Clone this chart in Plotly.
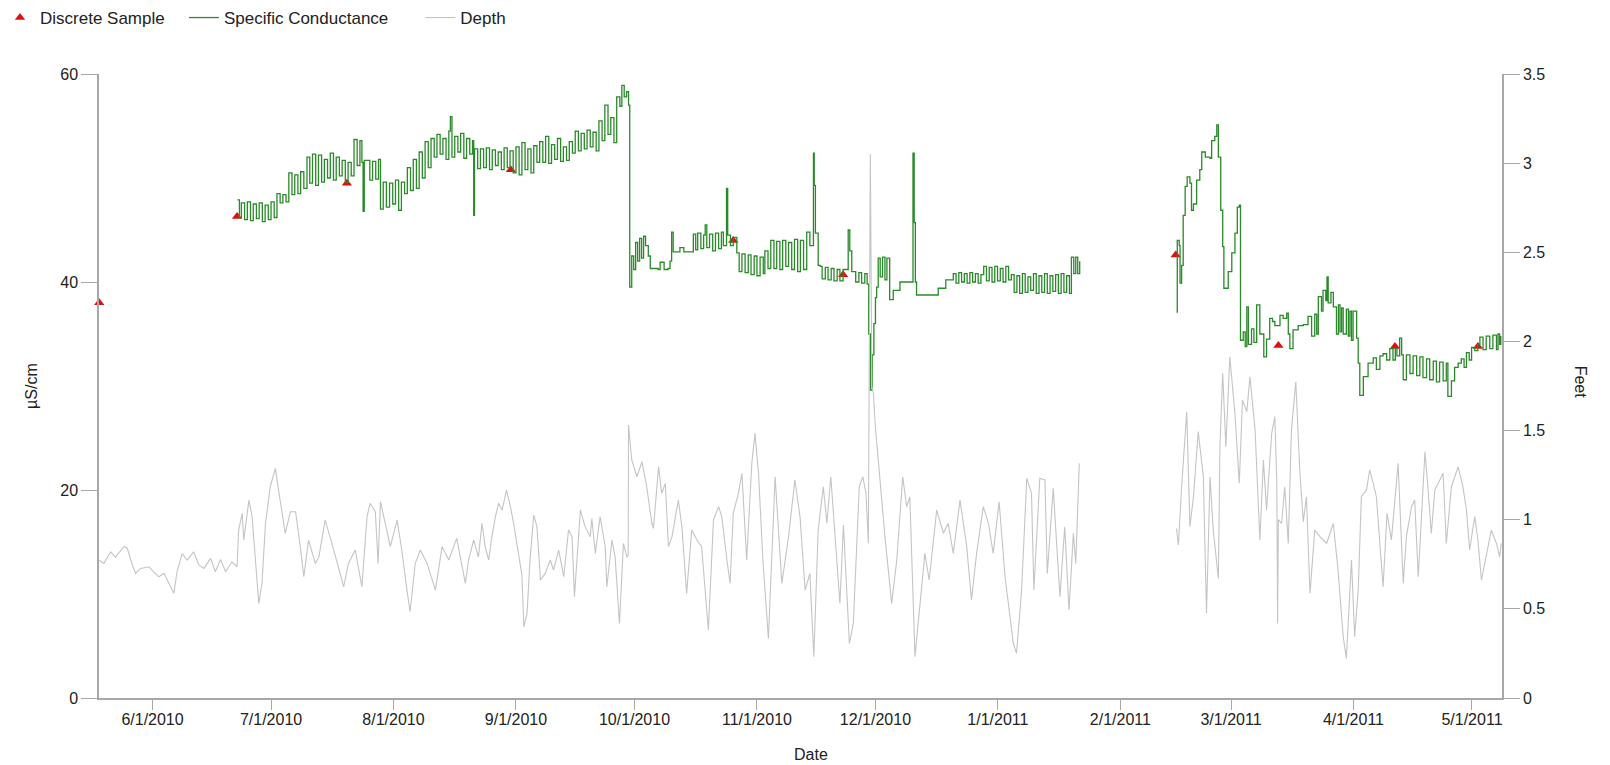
import pandas as pd
import plotly.graph_objects as go

BASE = pd.Timestamp("2010-06-01")

# ---------------- Data (day offsets from 2010-06-01) ----------------
sample_day = [-13.5, 21.4, 49.2, 90.7, 147.0, 174.8, 259.0, 285.0, 314.5, 335.5]
sample_val = [38.0, 46.3, 49.5, 50.8, 44.0, 40.7, 42.6, 33.9, 33.8, 33.8]

cond_day = [
    21.5, 22.0, 22.5, 23.3, 24.0, 24.8, 25.5, 26.3, 27.0, 27.8, 28.5, 29.3, 30.0, 30.8,
    31.5, 32.3, 33.0, 33.8, 34.5, 35.3, 36.0, 36.8, 37.5, 38.3, 39.1, 39.8, 40.5, 41.3,
    42.0, 42.8, 43.5, 44.3, 45.0, 45.8, 46.5, 47.3, 48.0, 48.8, 49.5, 50.3, 51.0, 51.8,
    52.5, 53.0, 53.3, 53.6, 54.3, 55.0, 55.7, 56.5, 57.2, 57.7, 58.4, 59.2, 60.0, 60.8,
    61.5, 62.3, 63.0, 63.8, 64.5, 65.3, 66.0, 66.8, 67.5, 68.3, 69.0, 69.8, 70.5, 71.3,
    72.0, 72.8, 73.5, 74.3, 75.0, 75.4, 75.8, 76.5, 77.3, 78.0, 78.8, 79.5, 80.3, 81.0,
    81.3, 81.5, 82.3, 83.0, 83.8, 84.5, 85.3, 86.0, 86.8, 87.5, 88.3, 89.0, 89.8, 90.5,
    91.3, 92.0, 92.8, 93.5, 94.3, 95.0, 95.8, 96.5, 97.3, 98.0, 98.8, 99.5, 100.3, 101.0,
    101.8, 102.5, 103.3, 104.0, 104.8, 105.5, 106.3, 107.0, 107.8, 108.5, 109.3, 110.0,
    110.8, 111.5, 112.3, 113.0, 113.8, 114.5, 115.3, 116.0, 116.8, 117.5, 118.3, 118.8,
    119.4, 120.0, 120.5, 120.8, 121.3, 121.8, 122.3, 122.8, 123.3, 123.8, 124.3, 124.8,
    125.5, 126.0, 128.0, 128.5, 129.5, 130.5, 131.0, 131.4, 131.8, 133.5, 134.5, 136.9,
    137.5, 138.0, 138.8, 139.5, 139.9, 140.3, 141.0, 141.8, 142.5, 143.3, 144.0, 144.5,
    145.3, 145.6, 146.3, 147.0, 147.9, 148.5, 149.2, 150.0, 150.8, 151.5, 152.3, 153.0,
    153.8, 154.6, 155.0, 155.8, 156.5, 157.3, 158.0, 158.8, 159.5, 160.3, 161.0, 161.8,
    162.5, 163.3, 164.0, 164.8, 165.6, 166.4, 167.3, 167.5, 167.8, 168.5, 169.0, 169.5,
    170.3, 171.0, 171.8, 172.5, 173.3, 174.0, 174.8, 175.8, 176.1, 176.5, 177.0, 178.0,
    178.8, 179.5, 180.3, 180.9, 181.3, 181.7, 182.2, 182.6, 183.0, 183.3, 183.7, 184.2,
    184.8, 185.4, 185.9, 186.6, 187.5, 189.2, 192.5, 192.8, 193.1, 193.4, 198.9, 200.8,
    202.7, 203.4, 204.1, 204.8, 205.5, 206.2, 206.9, 207.6, 208.3, 209.0, 209.7, 210.4,
    211.1, 211.8, 212.5, 213.2, 213.9, 214.6, 215.3, 216.0, 216.7, 217.4, 218.1, 218.8,
    219.5, 220.2, 220.9, 221.6, 222.3, 223.0, 223.7, 224.4, 225.1, 225.8, 226.5, 227.2,
    227.9, 228.6, 229.3, 230.0, 230.7, 231.4, 232.1, 232.6, 233.2, 233.7, 234.2, 234.7,
    246.0,
    259.2, 259.4, 259.9, 260.1, 260.5, 260.9, 261.4, 261.9, 262.6, 263.0, 263.5, 264.3,
    265.1, 265.6, 266.5, 267.7, 268.1, 268.9, 269.4, 269.8, 270.4, 270.9, 271.2, 272.3,
    273.2, 274.0, 274.6, 275.1, 275.4, 276.1, 276.6, 277.0, 277.4, 278.2, 278.8, 279.5,
    280.3, 281.3, 282.0, 282.8, 283.5, 284.1, 285.4, 286.2, 287.1, 287.5, 287.9, 288.7,
    290.0, 291.3, 292.5, 293.4, 294.2, 294.7, 295.1, 295.9, 296.3, 297.0, 297.3, 297.6,
    298.3, 298.9, 299.7, 300.2, 300.6, 301.0, 301.4, 302.2, 302.7, 303.1, 303.5, 303.9,
    304.8, 305.2, 305.6, 306.5, 307.7, 309.0, 309.8, 310.7, 311.5, 312.4, 313.2, 314.0,
    314.6, 315.0, 315.7, 316.2, 316.6, 317.4, 318.3, 319.1, 320.0, 320.8, 321.6, 322.5,
    323.3, 324.2, 325.0, 325.8, 326.7, 327.5, 327.9, 328.8, 329.6, 330.5, 331.3, 332.0,
    332.6, 333.3, 333.9, 334.7, 335.5, 336.0, 336.8, 337.6, 338.5, 339.3, 340.2, 340.6,
    341.0, 341.3,
]
cond_val = [
    47.9, 46.2, 47.6, 46.0, 47.7, 45.9, 47.5, 46.1, 47.6, 45.8, 47.4, 46.0, 47.7, 46.2,
    48.5, 47.6, 48.4, 47.7, 50.5, 48.4, 50.3, 48.5, 50.6, 49.0, 52.0, 49.5, 52.3, 49.3,
    52.2, 49.6, 51.8, 50.0, 52.4, 49.8, 52.0, 50.2, 51.7, 49.6, 51.5, 50.2, 53.7, 51.2,
    53.6, 51.5, 46.8, 51.7, 51.7, 49.8, 51.6, 49.9, 51.8, 47.0, 49.6, 47.2, 49.5, 47.5,
    49.8, 46.9, 49.6, 48.5, 51.0, 48.8, 51.8, 49.0, 52.5, 50.0, 53.5, 51.0, 53.8, 52.0,
    54.2, 52.3, 53.8, 51.8, 54.5, 55.9, 52.0, 54.0, 52.5, 54.3, 51.9, 53.8, 52.3, 53.6,
    46.4, 52.8, 50.9, 52.8, 51.0, 52.9, 50.8, 52.7, 51.2, 52.5, 50.8, 52.9, 51.0, 52.6,
    50.5, 53.0, 50.3, 53.4, 50.8, 52.8, 50.5, 53.1, 51.5, 53.5, 51.5, 54.0, 51.4, 53.2,
    51.8, 53.8, 51.6, 53.0, 51.7, 53.5, 52.4, 54.5, 52.6, 54.3, 52.8, 54.6,
    53.0, 54.4, 52.6, 55.5, 53.6, 57.0, 54.2, 55.8, 53.4, 57.8, 56.9, 58.9,
    57.8, 58.3, 57.0, 39.5, 42.5, 41.2, 43.8, 42.0, 44.2, 42.3, 44.4, 43.5,
    42.5, 41.3, 41.2, 41.9, 41.2, 41.3, 42.0, 44.8, 42.9, 43.3, 42.9, 44.6,
    43.1, 44.7, 43.2, 44.5, 45.5, 43.3, 44.6, 43.0, 44.7, 43.2, 44.8, 43.5,
    49.0, 44.5, 43.5, 44.3, 42.8, 41.0, 42.7, 40.9, 42.6, 40.7, 42.5, 40.6,
    42.4, 40.8, 43.0, 41.3, 44.0, 41.3, 43.9, 41.2, 44.0, 41.5, 43.8, 41.2,
    44.1, 41.0, 44.0, 41.2, 44.8, 43.5, 52.4, 49.3, 44.7, 41.6, 41.5, 40.3,
    41.4, 40.2, 41.3, 40.1, 41.2, 40.1, 41.2, 41.2, 45.0, 43.0, 41.0, 40.0,
    40.9, 39.9, 40.8, 39.8, 35.0, 29.6, 33.0, 36.0, 38.5, 39.5, 42.3, 40.5,
    42.4, 40.2, 42.3, 38.3, 39.2, 40.0, 52.4, 45.7, 40.0, 38.75, 39.4, 40.2,
    40.8, 39.9, 40.9, 40.0, 40.8, 39.9, 40.9, 40.0, 40.8, 39.9, 40.7, 41.5,
    40.1, 41.4, 40.0, 41.5, 40.1, 41.3, 40.0, 41.5, 40.2, 40.7, 39.0, 40.6,
    38.9, 40.8, 39.0, 40.5, 39.2, 40.8, 38.9, 40.6, 39.0, 40.8, 38.9, 40.6,
    39.1, 40.7, 38.9, 40.8, 39.0, 40.6, 38.9, 42.4, 40.8, 42.4, 40.8, 42.0,
    None,
    37.1, 44.0, 43.5, 39.9, 41.6, 46.4, 49.2, 50.1, 49.5, 46.9, 47.5, 49.8,
    50.8, 52.5, 52.0, 51.9, 53.6, 54.0, 55.1, 52.0, 46.9, 43.4, 39.4, 41.0,
    42.8, 44.7, 47.2, 47.4, 34.4, 35.2, 33.8, 37.6, 34.0, 35.5, 34.2, 37.8,
    35.0, 32.8, 34.5, 36.5, 36.2, 35.8, 36.8, 36.5, 37.0, 35.0, 33.6, 35.4,
    35.8, 35.9, 36.7, 34.8, 36.9, 35.0, 38.6, 37.2, 39.2, 38.2, 40.5, 38.0,
    39.0, 37.6, 35.0, 37.8, 35.2, 37.5, 35.0, 37.4, 34.8, 37.2, 34.4, 37.2,
    34.6, 32.2, 29.1, 30.9, 32.2, 32.7, 31.6, 32.9, 33.1, 32.5, 33.6, 32.5,
    33.6, 32.9, 34.6, 33.0, 30.6, 33.0, 31.2, 32.9, 31.0, 32.8, 30.8, 32.6,
    30.6, 32.4, 30.4, 32.3, 30.5, 32.2, 29.0, 30.5, 31.8, 32.2, 32.6, 31.8,
    33.2, 32.5, 33.7, 33.4, 34.0, 34.7, 33.5, 34.8, 33.6, 34.9, 33.5, 35.0,
    34.0, 34.8,
]

depth_day = [
    -13.6, -12.3, -10.6, -9.4, -7.2, -6.4, -5.1, -4.3, -3.0, -0.9, 0.3, 1.6, 2.9, 4.1,
    5.4, 6.2, 7.5, 8.8, 10.4, 11.7, 13.0, 14.7, 15.9, 17.2, 18.5, 20.1, 21.4, 21.8,
    22.7, 23.1, 24.4, 25.2, 26.0, 26.9, 27.7, 28.6, 29.8, 31.1, 31.9, 32.8, 33.6, 34.9,
    36.2, 37.4, 38.3, 39.5, 41.2, 42.1, 43.7, 45.4, 46.7, 48.4, 49.6, 51.3, 53.0, 54.3,
    55.1, 56.4, 57.1, 57.7, 58.9, 60.2, 61.9, 63.1, 64.4, 65.2, 66.5, 67.8, 69.5, 71.6,
    73.3, 75.0, 77.0, 78.3, 79.2, 80.0, 81.3, 82.5, 83.4, 84.2, 85.1, 85.9, 86.8, 87.6,
    88.5, 89.6, 90.6, 91.4, 92.3, 93.5, 94.0, 94.8, 95.6, 96.5, 97.3, 98.2, 99.4, 100.7,
    101.5, 102.8, 104.1, 105.3, 106.2, 106.8, 108.3, 109.5, 110.8, 111.2, 112.1, 113.3,
    114.6, 115.0, 116.3, 117.1, 118.2, 119.2, 120.1, 120.4, 120.5, 121.3, 122.6, 123.9,
    125.1, 126.4, 126.8, 128.1, 128.9, 129.8, 130.6, 131.5, 133.1, 134.0, 135.2, 136.5,
    137.8, 139.0, 140.7, 142.0, 143.3, 144.1, 145.4, 146.2, 147.0, 148.3, 149.2, 150.4,
    151.7, 152.5, 153.4, 154.5, 155.9, 157.6, 159.3, 161.0, 162.6, 163.9, 165.2, 166.4,
    167.4, 168.5, 169.8, 170.7, 171.7, 173.2, 174.0, 174.9, 176.4, 177.4, 178.9, 179.8,
    180.6, 181.2, 181.7, 182.1, 182.5, 182.9, 183.7, 185.4, 187.1, 188.4, 189.9, 190.9,
    191.7, 192.4, 193.0, 194.3, 195.5, 196.6, 198.5, 200.2, 201.4, 202.7, 204.4, 206.1,
    207.3, 208.6, 210.3, 211.6, 212.8, 214.3, 215.8, 217.9, 218.7, 220.0, 221.3, 222.5,
    223.1, 224.6, 225.9, 226.5, 228.0, 229.7, 230.9, 232.0, 233.1, 233.7, 234.6,
    246.0,
    259.2, 259.7, 260.5, 261.8, 262.6, 263.5, 264.7, 266.0, 266.8, 267.7, 268.5, 269.8,
    270.2, 270.9, 271.7, 272.7, 274.0, 275.1, 275.9, 277.0, 277.8, 279.1, 280.3, 281.2,
    282.0, 283.3, 284.1, 284.6, 284.8, 285.0, 285.8, 286.6, 287.5, 288.3, 289.4, 290.4,
    291.3, 292.1, 293.0, 294.2, 295.5, 297.2, 298.9, 300.1, 301.4, 302.2, 303.5, 304.3,
    305.2, 306.0, 307.3, 308.1, 309.0, 309.8, 311.5, 312.5, 313.6, 315.3, 316.6, 317.4,
    318.7, 319.5, 320.4, 321.2, 322.1, 322.9, 323.7, 324.6, 325.8, 326.7, 327.5, 328.8,
    330.5, 331.7, 332.6, 333.4, 334.7, 335.5, 336.4, 337.6, 338.9, 340.2, 341.0, 341.4,
]
depth_ft = [
    0.774, 0.755, 0.82, 0.79, 0.85, 0.84, 0.746, 0.70, 0.727, 0.736, 0.708, 0.68, 0.70, 0.643,
    0.587, 0.708, 0.81, 0.774, 0.82, 0.746, 0.727, 0.783, 0.708, 0.777, 0.708, 0.764, 0.736, 0.942,
    1.036, 0.886, 1.11, 1.017, 0.79, 0.53, 0.643, 0.98, 1.185, 1.288, 1.166, 1.045, 0.923, 1.045,
    1.045, 0.849, 0.68, 0.886, 0.755, 0.79, 0.998, 0.867, 0.755, 0.624, 0.755, 0.83, 0.624, 1.017,
    1.092, 1.045, 0.755, 1.101, 0.98, 0.849, 0.998, 0.83, 0.605, 0.484, 0.755, 0.83, 0.755, 0.605,
    0.849, 0.774, 0.895, 0.755, 0.643, 0.774, 0.886, 0.79, 0.98, 0.849, 0.774, 0.905, 1.017, 1.092,
    1.054, 1.166, 1.073, 0.98, 0.849, 0.69, 0.40, 0.475, 0.79, 1.026, 0.961, 0.662, 0.699, 0.774,
    0.718, 0.83, 0.68, 0.942, 0.905, 0.568, 1.054, 0.961, 0.905, 1.007, 0.811, 1.017,
    0.849, 0.624, 0.886, 0.79, 0.418, 0.867, 0.79, 0.80, 1.531, 1.335, 1.241, 1.325,
    1.185, 0.98, 0.951, 1.297, 1.148, 1.204, 0.849, 0.905, 1.11, 0.961, 0.587, 0.942,
    0.886, 0.849, 0.381, 1.0, 1.073, 1.017, 0.774, 0.643, 1.036, 1.148, 1.26, 0.774,
    1.316, 1.484, 1.26, 0.774, 0.334, 1.241, 0.643, 0.905, 1.223, 1.017, 0.605, 0.699,
    0.231, 0.942, 1.185, 0.98, 1.241, 0.811, 0.53, 0.97, 0.306, 0.418, 1.185, 1.241,
    1.148, 0.868, 3.05, 1.746, 1.709, 1.541, 1.335, 0.905, 0.531, 0.774, 1.241, 1.073,
    1.129, 0.587, 0.232, 0.531, 0.811, 0.662, 1.054, 0.924, 0.98, 0.811, 1.11, 0.849,
    0.55, 0.811, 1.073, 0.98, 0.811, 1.101, 0.68, 0.307, 0.25, 0.606, 1.232, 1.148,
    0.606, 1.232, 1.223, 0.699, 1.176, 0.568, 0.961, 0.494, 0.924, 0.755, 1.316,
    None,
    0.951, 0.858, 1.185, 1.606, 0.961, 1.129, 1.494, 1.241, 0.475, 1.241, 0.942, 0.671,
    1.409, 1.821, 1.409, 1.914, 1.596, 1.204, 1.671, 1.606, 1.802, 1.503, 0.886, 1.335,
    1.054, 1.484, 1.578, 1.2, 0.418, 1.0, 0.979, 1.185, 0.867, 1.503, 1.774, 1.279,
    0.989, 1.129, 0.587, 0.942, 0.905, 0.867, 0.979, 0.718, 0.344, 0.222, 0.774, 0.344,
    0.605, 1.129, 1.166, 1.279, 1.204, 1.129, 0.624, 1.036, 0.886, 1.316, 0.643, 0.905,
    1.073, 1.11, 0.68, 1.017, 1.381, 1.166, 0.923, 1.166, 1.223, 1.26, 0.867, 1.185,
    1.297, 1.185, 1.054, 0.83, 1.017, 0.886, 0.662, 0.792, 0.942, 0.867, 0.792, 0.867,
]

tick_dates = ["2010-06-01", "2010-07-01", "2010-08-01", "2010-09-01", "2010-10-01",
              "2010-11-01", "2010-12-01", "2011-01-01", "2011-02-01", "2011-03-01",
              "2011-04-01", "2011-05-01"]
tick_labels = ["6/1/2010", "7/1/2010", "8/1/2010", "9/1/2010", "10/1/2010", "11/1/2010",
               "12/1/2010", "1/1/2011", "2/1/2011", "3/1/2011", "4/1/2011", "5/1/2011"]
x_range_days = [-13.55, 341.6]


def to_dates(days):
    return [BASE + pd.Timedelta(days=d) for d in days]


FONT = "Liberation Sans, Arial, sans-serif"
AXIS_COLOR = "#a8a8a8"
NB = "\u00a0"

fig = go.Figure()
fig.add_trace(go.Scatter(
    x=to_dates(sample_day), y=sample_val, name="Discrete Sample" + NB * 3,
    mode="markers", marker=dict(symbol="triangle-up", size=9, color="#dd1111"),
    cliponaxis=False,
))
fig.add_trace(go.Scatter(
    x=to_dates(cond_day), y=cond_val, name="Specific Conductance" + NB * 5 + "\u2009",
    mode="lines", line=dict(color="#2a8a2a", width=1.3, shape="hv"), connectgaps=False,
))
fig.add_trace(go.Scatter(
    x=to_dates(depth_day), y=depth_ft, name="Depth", mode="lines", yaxis="y2",
    line=dict(color="#c4c4c4", width=1.1), connectgaps=False,
))

fig.update_layout(
    width=1610, height=765,
    paper_bgcolor="white", plot_bgcolor="white",
    margin=dict(l=99, r=108, t=74, b=67),
    font=dict(family=FONT, size=15, color="#222222"),
    showlegend=True,
    legend=dict(orientation="h", x=0, y=1, xref="container", yref="container",
                xanchor="left", yanchor="top", font=dict(size=17, color="#222222"),
                bgcolor="rgba(0,0,0,0)"),
    xaxis=dict(
        range=to_dates(x_range_days), tickvals=tick_dates, ticktext=tick_labels,
        showgrid=False, zeroline=False, showline=True, linecolor=AXIS_COLOR, linewidth=1.5,
        ticks="outside", ticklen=10, tickcolor=AXIS_COLOR, tickwidth=1,
        tickfont=dict(size=16), ticklabelstandoff=-4,
    ),
    yaxis=dict(
        range=[0, 60], tickvals=[0, 20, 40, 60], showgrid=False, zeroline=False,
        showline=True, linecolor=AXIS_COLOR, linewidth=1.5, ticks="outside", ticklen=16,
        tickcolor=AXIS_COLOR, tickwidth=1, tickfont=dict(size=16),
    ),
    yaxis2=dict(
        range=[0, 3.5], tickvals=[0, 0.5, 1, 1.5, 2, 2.5, 3, 3.5], overlaying="y", side="right",
        showgrid=False, zeroline=False, showline=True, linecolor=AXIS_COLOR, linewidth=1.5,
        ticks="outside", ticklen=16, tickcolor=AXIS_COLOR, tickwidth=1, tickfont=dict(size=16),
    ),
    annotations=[
        dict(text="µS/cm", xref="paper", yref="paper", x=-0.0485, y=0.50, textangle=-90,
             showarrow=False, font=dict(size=16), xanchor="center", yanchor="middle"),
        dict(text="Feet", xref="paper", yref="paper", x=1.056, y=0.506, textangle=90,
             showarrow=False, font=dict(size=16), xanchor="center", yanchor="middle"),
        dict(text="Date", xref="paper", yref="paper", x=0.5075, y=-0.0913,
             showarrow=False, font=dict(size=16), xanchor="center", yanchor="middle"),
    ],
)

fig.write_html("out.html", config={"displayModeBar": False},
               post_script="document.body.style.margin='0px';document.body.style.padding='0px';")
